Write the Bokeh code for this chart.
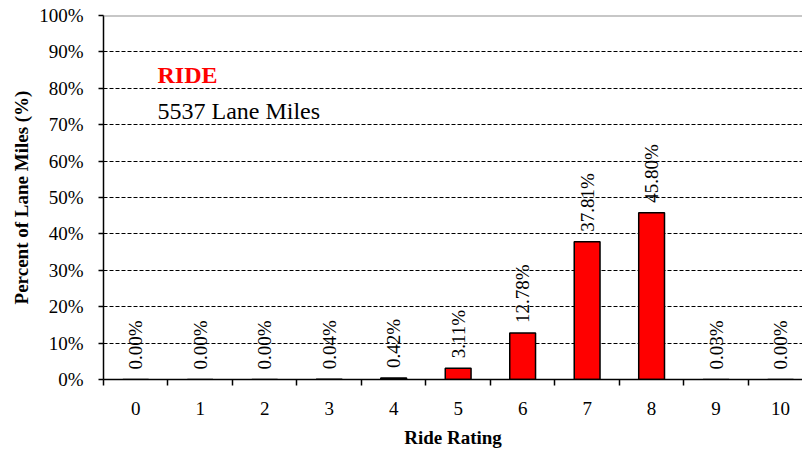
from bokeh.plotting import figure
from bokeh.models import Range1d, FixedTicker, Span, ColumnDataSource, CustomJSTickFormatter
from bokeh.embed import file_html
from bokeh.resources import INLINE
from bokeh.core.properties import value
import math

ratings = [0, 1, 2, 3, 4, 5, 6, 7, 8, 9, 10]
percents = [0.00, 0.00, 0.00, 0.04, 0.42, 3.11, 12.78, 37.81, 45.80, 0.03, 0.00]
y_ticks = [0, 10, 20, 30, 40, 50, 60, 70, 80, 90, 100]
title_text = "RIDE"
subtitle_text = "5537 Lane Miles"

FONT = "Liberation Serif"

src = ColumnDataSource(dict(x=ratings, y=percents, lab=[f"{v:.2f}%" for v in percents]))

p = figure(width=802, height=453, output_backend="svg", toolbar_location=None,
           x_range=Range1d(-0.5, 10.34), y_range=Range1d(0, 100),
           min_border_left=103, min_border_right=0, min_border_top=15, min_border_bottom=74)
p.outline_line_color = None
p.background_fill_color = "white"
p.border_fill_color = "white"

# grid
p.xgrid.grid_line_color = None
p.ygrid.ticker = FixedTicker(ticks=y_ticks[1:-1])
p.ygrid.grid_line_color = "black"
p.ygrid.grid_line_dash = "4 2"
p.ygrid.grid_line_width = 1
p.add_layout(Span(location=100, dimension="width", line_color="#909090", line_width=2))

# bars
p.vbar(x="x", top="y", width=0.4, source=src, fill_color="#ff0000",
       line_color="black", line_width=1.5)
p.text(x="x", y="y", text="lab", source=src, angle=math.pi / 2,
       text_align="left", text_baseline="middle", y_offset=-10,
       text_font=value(FONT), text_font_size="19px", text_color="black")

# x axis
xa = p.xaxis[0]
xa.ticker = FixedTicker(ticks=ratings, minor_ticks=[r - 0.5 for r in ratings] + [10.5])
xa.major_tick_line_color = None
xa.major_tick_out = 0
xa.major_tick_in = 0
xa.minor_tick_out = 6
xa.minor_tick_in = 0
xa.minor_tick_line_color = "black"
xa.minor_tick_line_width = 1.5
xa.axis_line_color = "black"
xa.axis_line_width = 1.5
xa.major_label_standoff = 16
xa.major_label_text_font = FONT
xa.major_label_text_font_size = "19px"
xa.major_label_text_color = "black"
xa.axis_label = "Ride Rating"
xa.axis_label_text_font = FONT
xa.axis_label_text_font_style = "bold"
xa.axis_label_text_font_size = "19px"
xa.axis_label_text_color = "black"
xa.axis_label_standoff = 9

# y axis
ya = p.yaxis[0]
ya.ticker = FixedTicker(ticks=y_ticks)
ya.formatter = CustomJSTickFormatter(code="return tick.toFixed(0) + '%';")
ya.major_tick_out = 5
ya.major_tick_in = 0
ya.minor_tick_line_color = None
ya.major_tick_line_color = "black"
ya.major_tick_line_width = 1.5
ya.axis_line_color = "black"
ya.axis_line_width = 1.5
ya.major_label_standoff = 15
ya.major_label_text_font = FONT
ya.major_label_text_font_size = "19px"
ya.major_label_text_color = "black"
ya.axis_label = "Percent of Lane Miles (%)"
ya.axis_label_text_font = FONT
ya.axis_label_text_font_style = "bold"
ya.axis_label_text_font_size = "19px"
ya.axis_label_text_color = "black"
ya.axis_label_standoff = 4

# annotations
p.text(x=[0.337], y=[83.6], text=[title_text], text_font=value(FONT), text_font_size="24px",
       text_font_style="bold", text_color="#ff0000", text_align="left", text_baseline="alphabetic")
p.text(x=[0.337], y=[73.7], text=[subtitle_text], text_font=value(FONT), text_font_size="24px",
       text_color="black", text_align="left", text_baseline="alphabetic")

open("out.html", "w").write(file_html(p, INLINE))
